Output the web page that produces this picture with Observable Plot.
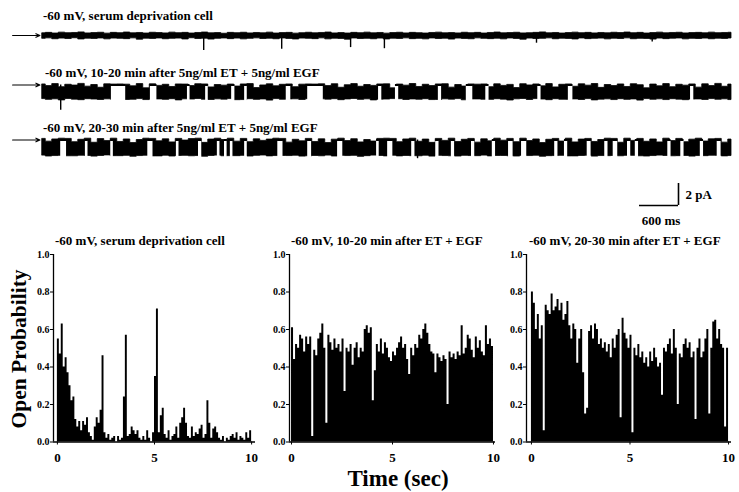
<!DOCTYPE html>
<html><head><meta charset="utf-8">
<script src="https://cdn.jsdelivr.net/npm/d3@7"></script>
<script src="https://cdn.jsdelivr.net/npm/@observablehq/plot@0.6"></script>
<style>
html,body{margin:0;padding:0;background:#fff;}
#fig{position:relative;width:739px;height:492px;overflow:hidden;font-family:'Liberation Serif','Times New Roman',serif;font-weight:bold;color:#000;}
.lbl{position:absolute;white-space:nowrap;font-size:13px;line-height:13px;}
</style></head><body><div id="fig"></div>
<script>
// ---------- DATA ----------
const traceLabels = [
  "-60 mV, serum deprivation cell",
  "-60 mV, 10-20 min after 5ng/ml ET + 5ng/ml EGF",
  "-60 mV, 20-30 min after 5ng/ml ET + 5ng/ml EGF"
];
const panelTitles = [
  "-60 mV, serum deprivation cell",
  "-60 mV, 10-20 min after ET + EGF",
  "-60 mV, 20-30 min after ET + EGF"
];
const yAxisLabel = "Open Probability";
const xAxisLabel = "Time (sec)";
const xTicks = [0, 5, 10];
const yTicks = [0, 0.2, 0.4, 0.6, 0.8, 1.0];
const scaleBarCurrent = 2;    // pA
const scaleBarTime = 0.6;     // s
const traceStep = 0.1;        // s per sample
const binWidth = 0.1;         // s per histogram bin

// Trace 1 (pA, relative to closed level)
const trace1Upper = [
0.20,0.24,0.18,0.26,0.21,0.23,0.28,0.19,0.22,0.25,
0.17,0.24,0.21,0.27,0.20,0.23,0.18,0.25,0.22,0.19,
0.26,0.21,0.24,0.18,0.23,0.27,0.20,0.22,0.16,0.24,
0.21,0.25,0.19,0.23,0.20,0.26,0.18,0.22,0.24,0.17,
0.21,0.25,0.20,0.23,0.27,0.19,0.22,0.18,0.24,0.21,
0.26,0.20,0.23,0.17,0.22,0.25,0.19,0.24,0.21,0.18,
0.23,0.26,0.20,0.22,0.19,0.25,0.21,0.24,0.18,0.23,
0.27,0.20,0.22,0.25,0.19,0.21,0.24,0.28,0.20,0.23,
0.18,0.22,0.26,0.21,0.24,0.19,0.23,0.20,0.25,0.22,
0.27,0.21,0.24,0.18,0.22,0.26,0.20,0.23,0.25,0.19,
0.22,0.24,0.20,0.26,0.21,0.23,0.25];
const trace1Lower = [
-0.30,-0.26,-0.34,-0.28,-0.32,-0.25,-0.36,-0.29,-0.31,-0.27,
-0.35,-0.28,-0.30,-0.33,-0.26,-0.38,-0.29,-0.31,-0.27,-0.34,
-0.30,-0.28,-0.36,-0.25,-0.32,-0.29,-0.37,-0.30,-0.27,-0.33,
-0.28,-0.35,-0.30,-0.26,-0.32,-0.29,-0.34,-0.27,-0.31,-0.36,
-0.28,-0.30,-0.33,-0.26,-0.35,-0.29,-0.31,-0.38,-0.27,-0.32,
-0.30,-0.34,-0.28,-0.36,-0.29,-0.31,-0.26,-0.33,-0.30,-0.35,
-0.27,-0.32,-0.29,-0.37,-0.28,-0.31,-0.34,-0.26,-0.30,-0.33,
-0.29,-0.35,-0.27,-0.31,-0.38,-0.28,-0.32,-0.30,-0.26,-0.34,
-0.29,-0.31,-0.36,-0.27,-0.33,-0.30,-0.28,-0.35,-0.29,-0.32,
-0.26,-0.34,-0.30,-0.31,-0.37,-0.28,-0.33,-0.29,-0.27,-0.35,
-0.30,-0.32,-0.28,-0.34,-0.29,-0.31,-0.27];
const trace1SpikeTimes = [2.48, 3.68, 4.74, 5.26, 7.60, 9.38];
const trace1SpikeDepths = [-1.36, -1.25, -1.10, -1.20, -0.70, -0.60];

// Trace 2
const trace2Upper = [
0.05,-0.10,0.08,-0.20,0.02,-0.05,0.10,-0.15,0.00,-0.25,
0.06,0.04,0.05,0.03,-0.12,0.08,-0.30,0.06,-0.08,0.02,
-0.18,0.05,0.04,-0.10,0.07,0.05,-0.22,0.00,-0.06,0.04,
-0.14,0.05,0.08,-0.28,-0.04,0.06,-0.12,0.02,0.05,-0.20,
0.03,0.05,0.04,0.06,-0.10,0.07,-0.25,-0.02,0.08,-0.16,
0.00,-0.08,0.05,0.06,-0.30,0.04,-0.06,0.09,-0.18,0.02,
-0.10,0.05,0.07,-0.24,0.00,-0.14,0.05,0.03,0.05,-0.20,
0.06,-0.08,0.01,-0.28,0.07,-0.04,0.05,-0.12,0.08,-0.22,
0.02,0.05,-0.16,0.06,-0.06,0.09,-0.26,0.00,-0.10,0.05,
-0.18,0.07,-0.02,-0.30,0.04,-0.12,0.08,-0.20,0.02,-0.06,
0.05,-0.24,0.06,-0.10,0.10,-0.16,0.04];
const trace2Lower = [
-1.28,-1.35,-1.30,-1.40,-1.27,-1.33,-1.38,-1.29,-1.32,-1.36,
-1.30,-1.33,-1.29,-1.36,-1.34,-1.28,-1.37,-1.32,-1.31,-1.35,
-1.29,-1.40,-1.30,-1.32,-1.27,-1.34,-1.36,-1.30,-1.33,-1.28,
-1.38,-1.37,-1.29,-1.35,-1.31,-1.42,-1.28,-1.34,-1.31,-1.30,
-1.36,-1.29,-1.35,-1.30,-1.33,-1.29,-1.38,-1.31,-1.27,-1.35,
-1.30,-1.40,-1.33,-1.32,-1.28,-1.29,-1.36,-1.31,-1.34,-1.29,
-1.37,-1.36,-1.30,-1.33,-1.28,-1.39,-1.31,-1.31,-1.34,-1.35,
-1.29,-1.33,-1.41,-1.30,-1.27,-1.36,-1.28,-1.32,-1.38,-1.29,
-1.34,-1.35,-1.31,-1.36,-1.28,-1.40,-1.33,-1.30,-1.37,-1.29,
-1.35,-1.31,-1.42,-1.28,-1.34,-1.30,-1.37,-1.29,-1.33,-1.38,
-1.32,-1.31,-1.36,-1.28,-1.34,-1.30,-1.37];
const trace2ClosingStarts = [1.06,1.66,2.23,2.51,2.91,3.11,3.75,4.08,5.17,5.43,6.09,6.52,6.82,7.62,8.09,9.97];
const trace2ClosingEnds   = [1.28,1.76,2.27,2.55,2.96,3.15,3.82,4.32,5.22,5.48,6.14,6.62,6.87,7.67,8.16,10.02];
const trace2SpikeTimes = [0.28];
const trace2SpikeDepths = [-2.3];

// Trace 3
const trace3Upper = [
0.10,-0.15,0.05,0.12,0.10,-0.20,0.02,0.12,-0.25,0.08,
-0.10,0.12,-0.18,0.05,-0.28,0.00,0.12,0.10,-0.12,0.06,
-0.22,0.10,-0.05,0.08,0.12,-0.26,0.04,0.12,0.00,0.12,
-0.15,0.10,-0.20,0.06,-0.08,0.04,0.12,0.10,-0.24,0.02,
-0.12,0.10,-0.18,0.06,-0.28,0.03,0.12,-0.10,0.07,-0.22,
0.00,-0.14,0.10,0.12,0.10,-0.20,0.05,0.12,-0.16,0.04,
-0.26,0.10,-0.08,0.12,-0.18,0.02,0.10,-0.24,0.06,-0.12,
0.12,-0.06,0.10,-0.20,0.12,-0.10,0.05,-0.28,0.02,0.10,
-0.14,0.12,-0.22,0.04,0.10,-0.18,0.00,0.12,0.10,-0.25,
0.12,-0.08,0.10,-0.16,0.05,-0.22,0.12,-0.10,0.10,-0.20,
0.03,0.12,-0.14,0.06,0.10,-0.24,0.04];
const trace3Lower = [
-1.42,-1.50,-1.46,-1.44,-1.48,-1.48,-1.43,-1.45,-1.51,-1.45,
-1.40,-1.47,-1.47,-1.44,-1.52,-1.46,-1.43,-1.49,-1.49,-1.43,
-1.50,-1.45,-1.44,-1.48,-1.46,-1.52,-1.45,-1.42,-1.48,-1.47,
-1.47,-1.44,-1.50,-1.44,-1.41,-1.49,-1.46,-1.45,-1.46,-1.43,
-1.51,-1.48,-1.45,-1.48,-1.42,-1.50,-1.44,-1.46,-1.44,-1.53,
-1.47,-1.42,-1.45,-1.49,-1.43,-1.49,-1.45,-1.47,-1.48,-1.43,
-1.51,-1.44,-1.46,-1.48,-1.50,-1.44,-1.46,-1.47,-1.42,-1.49,
-1.45,-1.45,-1.48,-1.50,-1.44,-1.46,-1.43,-1.52,-1.47,-1.46,
-1.44,-1.49,-1.49,-1.45,-1.43,-1.51,-1.46,-1.47,-1.45,-1.48,
-1.44,-1.44,-1.48,-1.50,-1.46,-1.42,-1.45,-1.48,-1.47,-1.45,
-1.51,-1.46,-1.47,-1.43,-1.44,-1.49,-1.46];
const trace3ClosingStarts = [0.28,0.66,1.05,1.62,2.06,2.40,2.69,2.80,2.89,3.11,3.62,4.08,4.54,5.14,5.31,5.68,6.05,6.29,6.60,6.92,7.17,7.37,7.88,8.03,8.38,8.65,8.78,9.00,9.12,9.62,9.82,10.12,10.38];
const trace3ClosingEnds   = [0.37,0.70,1.09,1.70,2.10,2.45,2.73,2.84,2.93,3.15,3.70,4.14,4.62,5.18,5.39,5.73,6.10,6.34,6.65,6.97,7.24,7.45,7.93,8.08,8.44,8.70,8.85,9.05,9.17,9.67,9.87,10.17,10.44];
const trace3SpikeTimes = [5.77];
const trace3SpikeDepths = [-1.7];

// Open probability histograms (bins of 0.1 s, 0..10 s)
const po1 = [
0.55,0.47,0.63,0.40,0.45,0.37,0.30,0.22,0.24,0.12,
0.08,0.11,0.06,0.11,0.09,0.13,0.05,0.03,0.01,0.08,
0.13,0.10,0.17,0.46,0.05,0.02,0.04,0.01,0.02,0.03,
0.00,0.03,0.01,0.02,0.24,0.57,0.03,0.04,0.08,0.06,
0.04,0.06,0.02,0.01,0.03,0.01,0.06,0.02,0.00,0.05,
0.35,0.71,0.05,0.14,0.18,0.04,0.02,0.06,0.01,0.03,
0.04,0.08,0.02,0.10,0.13,0.18,0.10,0.03,0.02,0.08,
0.03,0.05,0.04,0.07,0.09,0.02,0.04,0.22,0.10,0.02,
0.07,0.08,0.05,0.02,0.01,0.03,0.00,0.02,0.01,0.03,
0.04,0.02,0.05,0.01,0.03,0.02,0.01,0.05,0.02,0.06];
const po2 = [
0.61,0.44,0.52,0.50,0.57,0.55,0.48,0.56,0.52,0.56,
0.03,0.49,0.46,0.55,0.58,0.63,0.50,0.10,0.57,0.53,
0.49,0.55,0.50,0.52,0.48,0.55,0.27,0.50,0.48,0.52,
0.41,0.50,0.53,0.45,0.50,0.48,0.60,0.62,0.58,0.61,
0.22,0.38,0.52,0.48,0.55,0.47,0.53,0.50,0.45,0.43,
0.48,0.46,0.50,0.53,0.56,0.50,0.52,0.44,0.36,0.50,
0.46,0.52,0.50,0.57,0.55,0.60,0.63,0.58,0.52,0.48,
0.47,0.37,0.47,0.45,0.43,0.46,0.44,0.20,0.48,0.45,
0.47,0.44,0.48,0.46,0.62,0.47,0.50,0.57,0.55,0.49,
0.45,0.56,0.50,0.54,0.48,0.46,0.62,0.52,0.55,0.51];
const po3 = [
0.80,0.74,0.60,0.68,0.55,0.62,0.06,0.73,0.70,0.68,
0.79,0.70,0.72,0.76,0.70,0.74,0.65,0.68,0.75,0.62,
0.55,0.63,0.60,0.42,0.55,0.60,0.37,0.15,0.18,0.59,
0.62,0.55,0.63,0.60,0.52,0.55,0.50,0.53,0.48,0.52,
0.45,0.55,0.50,0.57,0.60,0.13,0.66,0.58,0.55,0.50,
0.57,0.05,0.50,0.46,0.52,0.45,0.48,0.42,0.45,0.40,
0.48,0.43,0.50,0.45,0.40,0.42,0.25,0.50,0.48,0.52,
0.55,0.47,0.60,0.50,0.20,0.47,0.45,0.52,0.55,0.50,
0.53,0.45,0.48,0.12,0.50,0.55,0.45,0.48,0.55,0.60,
0.15,0.50,0.64,0.65,0.55,0.60,0.52,0.50,0.08,0.50];

// ---------- DRAWING ----------
const W = 739, H = 492;
const fig = document.getElementById("fig");
const FONT = "'Liberation Serif','Times New Roman',serif";
const svgStyle = `position:absolute;left:0;top:0;overflow:visible;background:none;font-family:${FONT};font-weight:bold;font-size:13px;`;

const PX_PER_PA = 11;
const TRACE_LEFT = 42, TRACE_RIGHT = 735;
const TRACE_SECONDS = (TRACE_RIGHT - TRACE_LEFT) / 65; // 65 px per second (matches 600 ms bar)
const traceY = [-2.6, 0.6];

function tracePlot(upper, lower, spikeT, spikeD, closeS, closeE, baselineY) {
  const rows = upper.map((hi, i) => ({t: i * traceStep, hi, lo: lower[i]}));
  const spikes = spikeT.map((t, i) => ({t, d: spikeD[i]}));
  const closings = closeS ? closeS.map((s, i) => ({s, e: closeE[i]})) : [];
  const mt = baselineY - traceY[1] * PX_PER_PA;
  const ph = (traceY[1] - traceY[0]) * PX_PER_PA;
  return Plot.plot({
    width: W, height: H,
    marginLeft: TRACE_LEFT, marginRight: W - TRACE_RIGHT,
    marginTop: mt, marginBottom: H - mt - ph,
    x: {domain: [0, TRACE_SECONDS], axis: null},
    y: {domain: traceY, axis: null},
    style: svgStyle,
    marks: [
      Plot.area(rows, {x1: "t", y1: "lo", y2: "hi", fill: "black", stroke: "black", strokeWidth: 0.8, curve: "step"}),
      Plot.rect(closings, {x1: "s", x2: "e", y1: -0.12, y2: -1.8, fill: "white"}),
      Plot.ruleY(closings, {x1: "s", x2: "e", y: 0, stroke: "black", strokeWidth: 2}),
      Plot.ruleX(spikes, {x: "t", y1: 0, y2: "d", stroke: "black", strokeWidth: 1.4}),
      Plot.arrow([0], {x1: -0.46, x2: -0.04, y1: 0, y2: 0, stroke: "black", strokeWidth: 1.1, headLength: 6, headAngle: 50})
    ]
  });
}

fig.appendChild(tracePlot(trace1Upper, trace1Lower, trace1SpikeTimes, trace1SpikeDepths, null, null, 35));
fig.appendChild(tracePlot(trace2Upper, trace2Lower, trace2SpikeTimes, trace2SpikeDepths, trace2ClosingStarts, trace2ClosingEnds, 84.5));
fig.appendChild(tracePlot(trace3Upper, trace3Lower, trace3SpikeTimes, trace3SpikeDepths, trace3ClosingStarts, trace3ClosingEnds, 139.5));

// scale bar
fig.appendChild(Plot.plot({
  width: W, height: H,
  marginLeft: 639, marginRight: W - 639 - scaleBarTime * 65,
  marginTop: 205 - scaleBarCurrent * PX_PER_PA, marginBottom: H - 205,
  x: {domain: [0, scaleBarTime], axis: null},
  y: {domain: [0, scaleBarCurrent], axis: null},
  style: svgStyle,
  marks: [
    Plot.ruleY([0], {x1: 0, x2: scaleBarTime, strokeWidth: 1.6}),
    Plot.ruleX([scaleBarTime], {y1: 0, y2: scaleBarCurrent, strokeWidth: 1.6}),
    Plot.text([`${scaleBarCurrent} pA`], {x: scaleBarTime, y: scaleBarCurrent / 2, text: d => d, dx: 7, textAnchor: "start", fontSize: 13}),
    Plot.text([`${Math.round(scaleBarTime * 1000)} ms`], {x: scaleBarTime / 2, y: 0, text: d => d, dx: 2, dy: 15, fontSize: 13})
  ]
}));

// histograms (step area: one solid shape, no seams between bins)
function histPlot(values, domainX, left, right) {
  const steps = values.map((p, i) => ({x: i * binWidth, p}));
  steps.push({x: values.length * binWidth, p: values[values.length - 1]});
  return Plot.plot({
    width: W, height: H,
    marginLeft: left, marginRight: W - right,
    marginTop: 254, marginBottom: H - 441.5,
    x: {domain: domainX},
    y: {domain: [0, 1]},
    style: svgStyle,
    marks: [
      Plot.areaY(steps, {x: "x", y: "p", fill: "black", curve: "step-after"}),
      Plot.ruleY([0], {strokeWidth: 1.3}),
      Plot.ruleX([domainX[0]], {y1: 0, y2: 1, strokeWidth: 1.3}),
      Plot.axisX({ticks: xTicks, tickSize: 3, tickPadding: 8, label: null, fontSize: 13}),
      Plot.axisY({ticks: yTicks, tickSize: 3, tickPadding: 1, tickFormat: d3.format(".1f"), label: null, fontSize: 10})
    ]
  });
}
fig.appendChild(histPlot(po1, [-0.2, 10.2], 53, 255));
fig.appendChild(histPlot(po2, [-0.1, 10.1], 289, 495));
fig.appendChild(histPlot(po3, [-0.25, 10.15], 526, 731));

// text labels
function addLabel(text, left, top, extra) {
  const d = document.createElement("div");
  d.className = "lbl";
  d.textContent = text;
  d.style.left = left + "px";
  d.style.top = top + "px";
  if (extra) Object.assign(d.style, extra);
  fig.appendChild(d);
  return d;
}
addLabel(traceLabels[0], 43, 8.6);
addLabel(traceLabels[1], 45, 66);
addLabel(traceLabels[2], 43, 121);
addLabel(panelTitles[0], 55, 233.5);
addLabel(panelTitles[1], 291, 233.5);
addLabel(panelTitles[2], 529, 233.5);
addLabel(yAxisLabel, 20, 349, {fontSize: "21.5px", lineHeight: "21.5px", transform: "translate(-50%,-50%) rotate(-90deg)"});
addLabel(xAxisLabel, 398, 467, {fontSize: "23px", lineHeight: "23px", transform: "translateX(-50%)"});
</script></body></html>
